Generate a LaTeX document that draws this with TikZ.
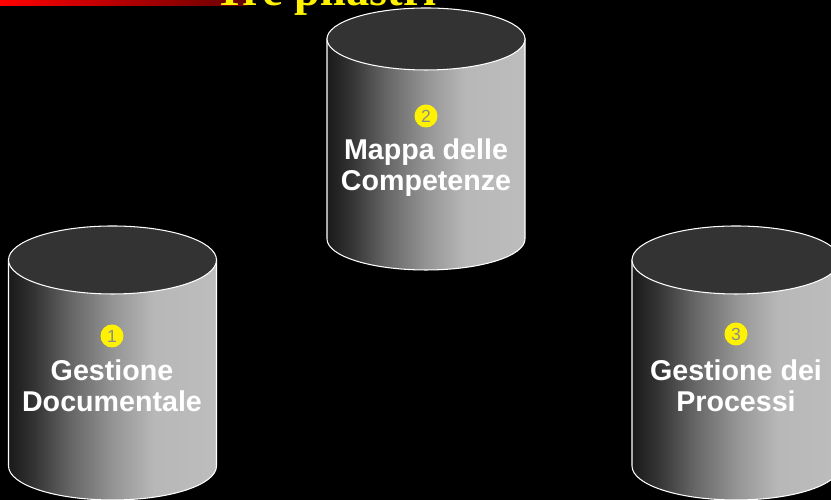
\documentclass[tikz,border=0pt]{standalone}
\usepackage{fontspec}
\setmainfont{Liberation Serif}
\setsansfont{Liberation Sans}
\usetikzlibrary{positioning}

\definecolor{topgray}{gray}{0.2}
\definecolor{shadeA}{gray}{0.1}
\definecolor{shadeB}{gray}{0.2}
\definecolor{shadeC}{gray}{0.4}
\definecolor{shadeD}{gray}{0.58}
\definecolor{shadeE}{gray}{0.72}
\definecolor{shadeF}{gray}{0.74}
\pgfdeclarehorizontalshading{pillarshade}{100bp}{%
  color(0bp)=(shadeA); color(25bp)=(shadeA); color(31bp)=(shadeB);
  color(40bp)=(shadeC); color(50bp)=(shadeD); color(60bp)=(shadeE);
  color(75bp)=(shadeF); color(100bp)=(shadeF)}

% pillar: name, center x, top y, bottom y, x radius, y radius
\newcommand{\pilastro}[6]{%
  \coordinate (#1) at (#2,#3);
  \shadedraw[shading=pillarshade, draw=white, line width=0.6pt]
    (#2-#5,#3) -- (#2-#5,#4)
    arc[start angle=180, end angle=360, x radius=#5, y radius=#6]
    -- (#2+#5,#3) -- cycle;
  \filldraw[fill=topgray, draw=white, line width=0.6pt]
    (#1) ellipse [x radius=#5, y radius=#6];
}

\begin{document}
\begin{tikzpicture}[
  badge/.style={circle, fill=yellow, minimum size=0.46cm, inner sep=0pt,
                text=gray!90, font=\sffamily\fontsize{10}{10}\selectfont},
  pillartext/.style={align=center, text=white, inner sep=0pt,
                     font=\sffamily\bfseries\fontsize{16.3}{17.5}\selectfont},
  title/.style={text=yellow, inner sep=0pt,
                font=\rmfamily\bfseries\fontsize{26.5}{30}\selectfont},
]
\fill[black] (0,0) rectangle (16.62,10);
\useasboundingbox (0,0) rectangle (16.62,10);
\clip (0,0) rectangle (16.62,10);

% Red bar
\shade[left color=red, right color=red!40!black] (0,9.88) rectangle (4.94,10);

% Pillars
\pilastro{p1}{2.25}{4.8}{0.68}{2.08}{0.68}
\pilastro{p2}{8.52}{9.22}{5.22}{1.98}{0.62}
\pilastro{p3}{14.72}{4.8}{0.68}{2.08}{0.68}

% Numbers
\node[badge] (b1) at (2.24,3.28) {1};
\node[badge] (b2) at (8.52,7.68) {2};
\node[badge] (b3) at (14.72,3.32) {3};

% Labels
\node[pillartext, below=0.24cm of b1] (t1) {Gestione\\Documentale};
\node[pillartext, below=0.22cm of b2] (t2) {Mappa delle\\Competenze};
\node[pillartext, below=0.27cm of b3] (t3) {Gestione dei\\Processi};

% Title
\node[title, anchor=base east] (titolo) at (8.74,9.88) {Tre pilastri};

\end{tikzpicture}
\end{document}
